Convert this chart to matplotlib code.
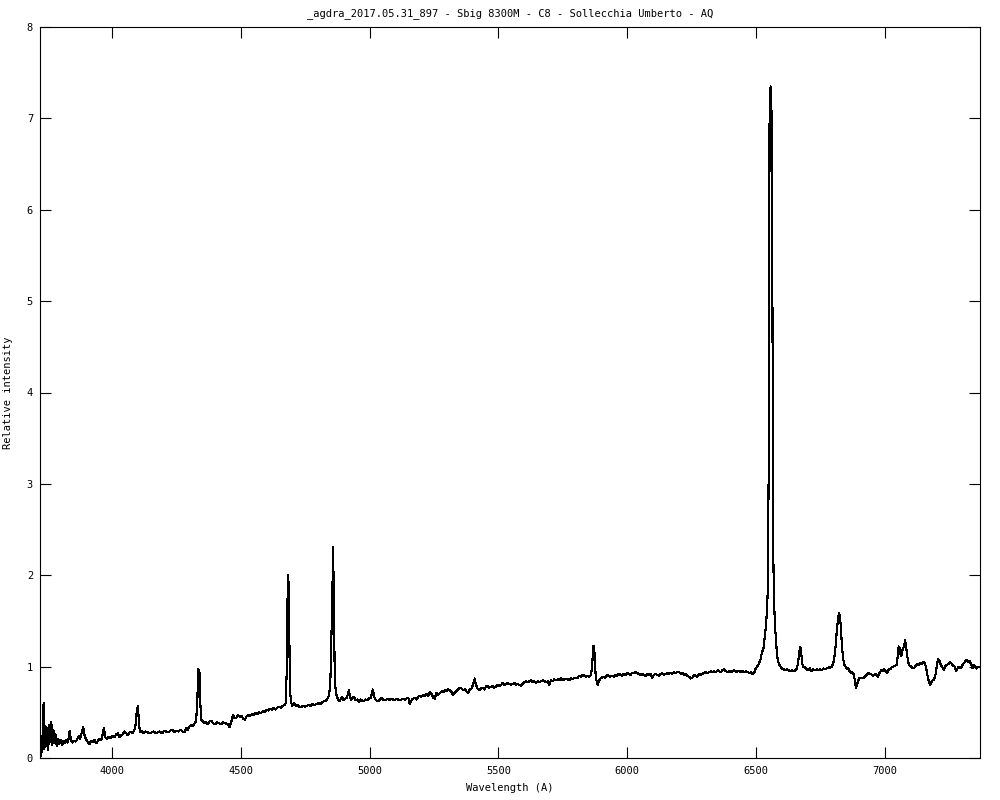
import matplotlib
matplotlib.use("Agg")
import matplotlib.pyplot as plt

wavelength = [
3720,3723,3727,3731,3734,3737,3741,3745,3749,3752,3756,3760,3764,3768,3772,3776,3780,3785,3790,3795,
3800,3806,3811,3817,3823,3829,3835,3840,3846,3852,3858,3864,3870,3876,3882,3888,3893,3898,3905,3912,
3918,3925,3932,3938,3945,3951,3958,3964,3968,3973,3980,3987,3995,4002,4010,4016,4022,4029,4035,4042,
4048,4055,4061,4068,4074,4080,4087,4092,4096,4100,4104,4108,4115,4122,4130,4138,4146,4154,4162,4170,
4178,4186,4194,4202,4210,4218,4226,4234,4242,4250,4258,4266,4274,4281,4288,4294,4301,4307,4314,4320,
4326,4331,4334,4339,4342,4346,4352,4359,4365,4372,4378,4385,4392,4400,4408,4416,4424,4432,4440,4448,
4456,4463,4469,4475,4482,4489,4496,4503,4510,4516,4521,4528,4535,4542,4550,4556,4563,4570,4577,4585,
4592,4599,4606,4613,4620,4627,4634,4641,4648,4655,4663,4669,4674,4678,4681,4684,4687,4690,4694,4700,
4707,4714,4720,4727,4734,4741,4749,4756,4763,4770,4778,4786,4792,4800,4808,4815,4822,4828,4835,4841,
4847,4852,4855,4858,4861,4864,4867,4872,4878,4884,4889,4893,4899,4905,4912,4919,4923,4928,4934,4940,
4946,4952,4958,4964,4970,4976,4983,4990,4997,5005,5012,5016,5020,5026,5033,5040,5046,5052,5059,5065,
5072,5078,5085,5091,5098,5104,5111,5117,5124,5130,5137,5143,5150,5156,5162,5169,5175,5182,5188,5195,
5201,5208,5214,5221,5227,5234,5240,5247,5253,5259,5266,5272,5279,5285,5292,5298,5305,5311,5318,5324,
5331,5337,5344,5350,5357,5363,5370,5376,5383,5389,5396,5403,5408,5413,5419,5425,5432,5438,5445,5451,
5458,5464,5471,5477,5484,5490,5497,5503,5510,5516,5523,5529,5536,5542,5549,5555,5562,5568,5575,5581,
5588,5594,5600,5607,5614,5620,5627,5633,5640,5646,5653,5659,5666,5672,5679,5685,5692,5698,5704,5711,
5717,5724,5730,5737,5743,5750,5756,5763,5769,5776,5782,5789,5795,5801,5808,5814,5821,5827,5834,5840,
5846,5853,5859,5864,5868,5872,5875,5879,5885,5890,5896,5902,5909,5915,5922,5928,5935,5941,5948,5954,
5961,5967,5974,5980,5987,5993,6000,6006,6013,6019,6026,6032,6039,6045,6052,6058,6065,6071,6078,6084,
6091,6097,6104,6110,6117,6123,6130,6136,6143,6149,6156,6162,6169,6175,6182,6188,6195,6201,6208,6214,
6221,6227,6234,6240,6247,6253,6260,6266,6273,6279,6286,6292,6299,6305,6312,6318,6325,6331,6338,6344,
6351,6357,6364,6370,6377,6383,6390,6396,6403,6409,6416,6422,6429,6435,6442,6448,6455,6461,6468,6474,
6481,6487,6493,6499,6505,6511,6517,6522,6529,6534,6539,6543,6546,6549,6551,6553,6557,6561,6564,6566,
6568,6570,6574,6578,6582,6588,6595,6601,6608,6614,6621,6627,6633,6640,6647,6653,6659,6664,6668,6672,
6675,6679,6684,6690,6697,6703,6710,6716,6723,6729,6736,6742,6749,6755,6762,6768,6775,6781,6788,6795,
6802,6808,6813,6818,6822,6826,6830,6834,6838,6843,6848,6853,6858,6864,6869,6874,6879,6884,6888,6892,
6896,6901,6907,6913,6919,6925,6931,6938,6944,6950,6956,6962,6968,6974,6980,6986,6992,6998,7004,7010,
7016,7022,7028,7034,7040,7046,7050,7054,7058,7062,7066,7070,7075,7079,7083,7087,7091,7097,7103,7109,
7115,7121,7127,7133,7139,7145,7150,7156,7162,7167,7172,7176,7181,7186,7192,7198,7204,7208,7213,7218,
7224,7230,7236,7242,7248,7254,7260,7266,7272,7278,7284,7290,7296,7302,7308,7313,7318,7324,7330,7335,
7340,7345,7350,7356,7362,7368,
]

intensity = [
0.41,0.02,0.08,0.30,0.60,0.10,0.35,0.13,0.33,0.09,0.36,0.18,0.39,0.14,0.31,0.16,0.26,0.13,0.21,0.15,
0.20,0.14,0.19,0.16,0.20,0.17,0.30,0.20,0.17,0.19,0.18,0.20,0.24,0.21,0.28,0.34,0.25,0.21,0.18,0.15,
0.19,0.18,0.20,0.16,0.19,0.21,0.20,0.27,0.33,0.23,0.21,0.23,0.22,0.24,0.23,0.26,0.27,0.23,0.25,0.26,
0.29,0.27,0.25,0.28,0.28,0.27,0.31,0.38,0.52,0.57,0.40,0.28,0.30,0.27,0.29,0.28,0.27,0.28,0.29,0.27,
0.28,0.29,0.27,0.30,0.29,0.28,0.30,0.31,0.28,0.30,0.29,0.31,0.29,0.28,0.33,0.31,0.35,0.36,0.35,0.38,
0.40,0.62,0.97,0.95,0.62,0.42,0.40,0.38,0.39,0.37,0.40,0.41,0.38,0.37,0.39,0.38,0.37,0.39,0.38,0.37,
0.34,0.40,0.47,0.44,0.44,0.47,0.45,0.46,0.43,0.42,0.45,0.47,0.46,0.48,0.47,0.49,0.48,0.50,0.49,0.51,
0.50,0.53,0.52,0.54,0.53,0.55,0.53,0.55,0.56,0.55,0.57,0.58,0.60,0.95,1.72,2.00,1.72,0.80,0.62,0.57,
0.60,0.57,0.58,0.56,0.56,0.57,0.56,0.57,0.58,0.57,0.59,0.58,0.59,0.60,0.59,0.61,0.62,0.62,0.64,0.68,
0.78,1.40,1.75,2.31,1.75,1.00,0.78,0.67,0.64,0.62,0.66,0.67,0.63,0.65,0.66,0.74,0.69,0.63,0.66,0.67,
0.63,0.64,0.61,0.64,0.63,0.62,0.64,0.63,0.65,0.66,0.75,0.70,0.65,0.63,0.62,0.64,0.66,0.64,0.63,0.64,
0.65,0.63,0.65,0.64,0.63,0.65,0.64,0.63,0.64,0.65,0.64,0.65,0.66,0.59,0.63,0.65,0.66,0.64,0.67,0.68,
0.67,0.69,0.68,0.70,0.68,0.72,0.70,0.66,0.65,0.71,0.69,0.71,0.73,0.72,0.74,0.73,0.75,0.74,0.72,0.69,
0.72,0.73,0.75,0.77,0.76,0.74,0.75,0.73,0.71,0.75,0.76,0.82,0.87,0.80,0.76,0.74,0.76,0.77,0.75,0.78,
0.79,0.77,0.78,0.79,0.77,0.78,0.80,0.79,0.80,0.82,0.80,0.81,0.82,0.81,0.80,0.81,0.82,0.80,0.81,0.80,
0.79,0.81,0.83,0.84,0.83,0.84,0.85,0.83,0.84,0.82,0.84,0.83,0.84,0.85,0.84,0.83,0.84,0.80,0.85,0.84,
0.86,0.85,0.86,0.85,0.87,0.85,0.86,0.87,0.86,0.85,0.87,0.86,0.88,0.87,0.88,0.90,0.89,0.91,0.90,0.89,
0.90,0.89,0.91,1.00,1.23,1.22,1.00,0.87,0.80,0.84,0.87,0.88,0.89,0.88,0.91,0.90,0.89,0.90,0.89,0.91,
0.90,0.92,0.91,0.90,0.92,0.91,0.93,0.92,0.91,0.93,0.93,0.94,0.93,0.92,0.91,0.92,0.91,0.90,0.92,0.91,
0.92,0.88,0.91,0.92,0.91,0.90,0.92,0.93,0.91,0.92,0.93,0.92,0.93,0.92,0.94,0.93,0.94,0.94,0.92,0.93,
0.91,0.92,0.90,0.89,0.87,0.88,0.91,0.90,0.89,0.92,0.91,0.92,0.93,0.94,0.93,0.94,0.95,0.94,0.95,0.94,
0.96,0.95,0.94,0.96,0.97,0.95,0.94,0.95,0.94,0.95,0.96,0.94,0.95,0.95,0.94,0.95,0.94,0.95,0.94,0.93,
0.94,0.92,0.93,0.98,1.00,1.03,1.07,1.14,1.20,1.32,1.45,1.62,1.85,3.00,4.60,7.13,7.35,7.02,5.00,3.20,
2.10,1.73,1.45,1.28,1.12,1.04,1.00,0.98,0.97,0.96,0.97,0.96,0.95,0.96,0.95,0.96,0.98,1.05,1.15,1.22,
1.18,1.04,1.00,0.99,0.97,0.96,0.98,0.95,0.97,0.96,0.97,0.96,0.97,0.96,0.98,0.97,0.98,0.99,0.99,1.00,
1.06,1.18,1.36,1.50,1.59,1.56,1.42,1.22,1.10,1.02,1.00,0.97,0.98,0.95,0.93,0.94,0.92,0.85,0.77,0.80,
0.84,0.87,0.88,0.87,0.88,0.90,0.91,0.93,0.92,0.91,0.90,0.92,0.91,0.89,0.93,0.96,0.95,0.97,0.95,0.93,
0.97,0.97,1.00,1.00,1.01,1.02,1.10,1.22,1.20,1.12,1.13,1.20,1.22,1.29,1.22,1.13,1.05,1.01,1.00,0.98,
0.99,1.01,1.03,1.02,1.04,1.03,1.05,1.04,0.97,0.89,0.83,0.80,0.83,0.85,0.86,0.92,1.04,1.08,1.06,1.02,
0.99,0.96,1.01,1.02,1.03,1.05,1.03,1.01,1.00,0.95,0.99,1.00,0.98,1.02,1.04,1.06,1.07,1.05,1.06,1.03,
0.98,1.02,1.00,0.98,1.00,1.00,
]

x_ticks = [4000, 4500, 5000, 5500, 6000, 6500, 7000]
y_ticks = [0, 1, 2, 3, 4, 5, 6, 7, 8]
title = "_agdra_2017.05.31_897 - Sbig 8300M - C8 - Sollecchia Umberto - AQ"
x_label = "Wavelength (A)"
y_label = "Relative intensity"

plt.rcParams['font.family'] = ['DejaVu Sans Mono']
fig = plt.figure(figsize=(10, 8), dpi=100)
ax = fig.add_axes([0.040, 0.0525, 0.940, 0.91375])
ax.plot(wavelength, intensity, color='black', linewidth=0.8, antialiased=False)
ax.set_xlim(3720, 7370)
ax.set_ylim(0, 8)
ax.set_xticks(x_ticks)
ax.set_yticks(y_ticks)
ax.tick_params(direction='in', length=8, width=0.8, top=True, right=True,
               labelsize=7.5, pad=6)
ax.tick_params(axis='y', pad=5)
for s in ax.spines.values():
    s.set_linewidth(0.8)
ax.set_title(title, fontsize=7.5, pad=8)
ax.set_xlabel(x_label, fontsize=7.5, labelpad=5)
ax.set_ylabel(y_label, fontsize=7.5, labelpad=10)
fig.savefig("out.png", dpi=100)
